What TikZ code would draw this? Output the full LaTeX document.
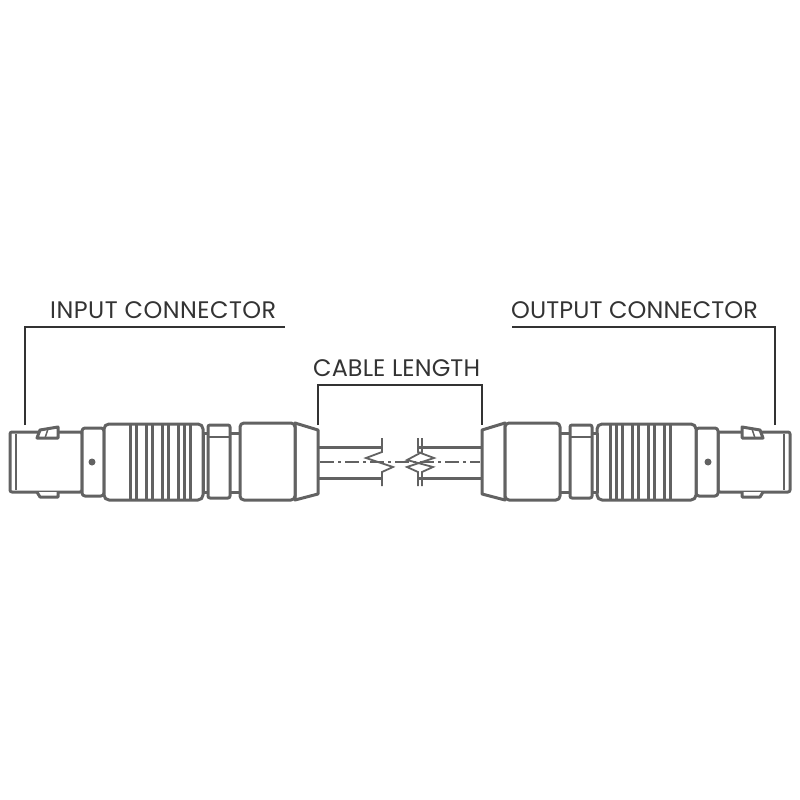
\documentclass[tikz,border=0pt]{standalone}
\usepackage{fontspec}
\setmainfont{Poppins}
\definecolor{dg}{HTML}{626262}
\definecolor{tx}{HTML}{333333}
\begin{document}
\begin{tikzpicture}[x=1bp,y=-1bp,
  ol/.style={draw=dg,line width=3bp,line join=round,fill=white},
  th/.style={draw=tx,line width=1.2bp},
  lab/.style={text=tx,font=\fontsize{24}{24}\selectfont,anchor=base west,inner sep=0}]
\useasboundingbox (0,0) rectangle (800,800);
\newcommand{\conn}{%
  \draw[ol,rounded corners=2] (10,432) rectangle (82,492);
  \draw[dg,line width=2bp] (16,434)--(16,490);
  \draw[ol] (37,438)--(40,430)--(58,427)--(58,438)--cycle;
  \draw[ol] (37,492)--(40,497)--(58,497)--(58,492);
  \draw[dg,line width=1.5bp] (45,438)--(48,429);
  \draw[ol,rounded corners=3] (82,428) rectangle (104,496);
  \fill[dg] (92,462) circle (3.5);
  \draw[ol,rounded corners=5] (104,424) rectangle (203,500);
  \foreach \a in {130,146,162,178}{\draw[ol] (\a,424)--(\a,500);\draw[ol](\a+6,424)--(\a+6,500);}
  \draw[ol] (190,424)--(190,500);
  \draw[ol] (203,433) rectangle (242,492);
  \draw[ol,rounded corners=2] (208,425) rectangle (230,498);
  \draw[dg,line width=2bp] (208,437)--(230,437);
  \draw[ol] (295,423)--(318,430)--(318,494)--(295,500)--cycle;
  \draw[ol,rounded corners=4] (240,423) rectangle (295,500);
  \draw[ol] (318,447)--(382,447);
  \draw[ol] (318,478)--(382,478);
  \draw[dg,line width=1.8bp] (382,438)--(382,452)--(366,458)--(393,467)--(382,472)--(382,486);
}
\conn
\begin{scope}[xshift=800bp,xscale=-1]\conn\end{scope}
\draw[ol] (422,447)--(482,447);
\draw[ol] (422,478)--(482,478);
\draw[dg,line width=1.8bp] (422,438)--(422,452)--(407,460)--(433,467)--(422,472)--(422,486);
\draw[dg,line width=1.5bp,dash pattern=on 14bp off 4bp on 3bp off 4bp] (320,462)--(480,462);
% labels
\node[lab] at (50,318) {\addfontfeature{LetterSpace=2}INPUT CONNECTOR};
\node[lab] at (511,318) {\addfontfeature{LetterSpace=0.5}OUTPUT CONNECTOR};
\node[lab] at (313,376) {\addfontfeature{LetterSpace=0.5}CABLE LENGTH};
\draw[th] (25,425)--(25,327)--(285,327);
\draw[th] (775,425)--(775,327)--(512,327);
\draw[th] (318,425)--(318,385)--(482,385)--(482,425);
\end{tikzpicture}
\end{document}
